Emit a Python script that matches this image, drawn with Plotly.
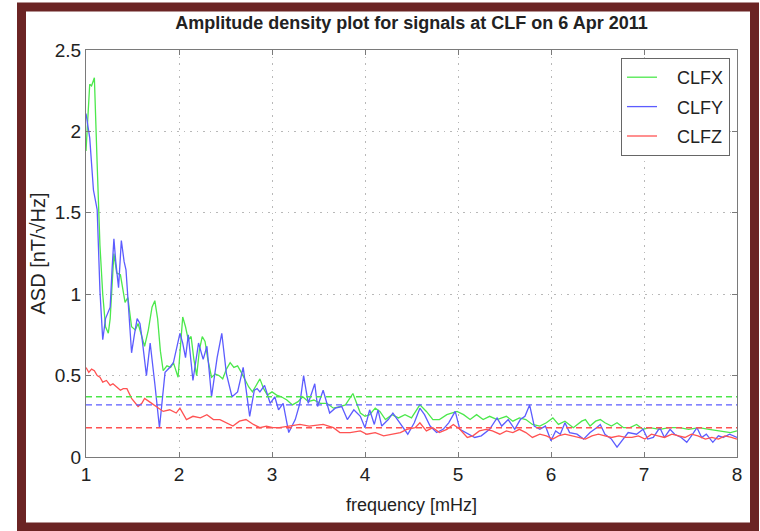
import plotly.graph_objects as go

# ---------------- data ----------------
freq_x = [1.00, 1.04, 1.06, 1.09, 1.12, 1.15, 1.18, 1.21, 1.24, 1.26, 1.30, 1.33, 1.37, 1.40, 1.42, 1.45,
          1.49, 1.53, 1.56, 1.60, 1.63, 1.67, 1.71, 1.74, 1.77, 1.80, 1.83, 1.87, 1.91, 1.94, 1.99, 2.04,
          2.07, 2.10, 2.13, 2.16, 2.19, 2.22, 2.25, 2.28, 2.31, 2.35, 2.39, 2.43, 2.47, 2.51, 2.55, 2.59,
          2.63, 2.67, 2.71, 2.75, 2.79, 2.83, 2.87, 2.91, 2.95, 3.00, 3.05, 3.10, 3.16, 3.22, 3.28, 3.33,
          3.39, 3.45, 3.52, 3.59, 3.66, 3.73, 3.79, 3.87, 3.91, 3.95, 4.00, 4.05, 4.11, 4.16, 4.22, 4.29,
          4.36, 4.43, 4.50, 4.59, 4.66, 4.73, 4.80, 4.88, 4.99, 5.06, 5.13, 5.20, 5.27, 5.34, 5.42, 5.52,
          5.59, 5.66, 5.73, 5.80, 5.88, 5.95, 6.02, 6.08, 6.15, 6.24, 6.33, 6.37, 6.42, 6.48, 6.53, 6.58,
          6.65, 6.71, 6.78, 6.85, 6.92, 6.99, 7.06, 7.17, 7.27, 7.38, 7.48, 7.59, 7.70, 7.81, 7.93, 8.00]
clfx = [1.88, 2.29, 2.28, 2.33, 1.80, 1.30, 1.00, 0.80, 0.76, 0.85, 1.25, 1.13, 1.12, 1.00, 0.95, 0.98,
        0.80, 0.78, 0.82, 0.74, 0.68, 0.78, 0.92, 0.96, 0.85, 0.65, 0.53, 0.56, 0.55, 0.58, 0.49, 0.86,
        0.80, 0.72, 0.74, 0.60, 0.50, 0.66, 0.74, 0.71, 0.60, 0.49, 0.51, 0.50, 0.48, 0.54, 0.58, 0.55,
        0.56, 0.52, 0.47, 0.43, 0.40, 0.44, 0.48, 0.42, 0.38, 0.40, 0.38, 0.37, 0.35, 0.32, 0.34, 0.37,
        0.34, 0.35, 0.33, 0.33, 0.30, 0.31, 0.32, 0.39, 0.33, 0.27, 0.25, 0.26, 0.30, 0.28, 0.23, 0.26,
        0.24, 0.26, 0.24, 0.32, 0.28, 0.23, 0.23, 0.26, 0.28, 0.26, 0.23, 0.26, 0.23, 0.25, 0.23, 0.25,
        0.22, 0.24, 0.23, 0.20, 0.19, 0.21, 0.24, 0.20, 0.22, 0.18, 0.22, 0.23, 0.19, 0.22, 0.23, 0.21,
        0.19, 0.21, 0.18, 0.18, 0.20, 0.17, 0.18, 0.17, 0.18, 0.18, 0.17, 0.18, 0.17, 0.16, 0.15, 0.16]

freq_y = [1.00, 1.04, 1.08, 1.12, 1.15, 1.18, 1.21, 1.24, 1.26, 1.28, 1.30, 1.32, 1.35, 1.38, 1.41, 1.43,
          1.47, 1.49, 1.52, 1.55, 1.58, 1.60, 1.65, 1.69, 1.74, 1.79, 1.82, 1.85, 1.90, 1.94, 2.01, 2.04,
          2.07, 2.10, 2.15, 2.18, 2.21, 2.26, 2.30, 2.35, 2.41, 2.46, 2.51, 2.57, 2.63, 2.69, 2.76, 2.81,
          2.84, 2.87, 2.92, 2.98, 3.03, 3.07, 3.12, 3.18, 3.25, 3.30, 3.34, 3.39, 3.46, 3.49, 3.55, 3.62,
          3.68, 3.75, 3.81, 3.88, 3.95, 4.00, 4.05, 4.10, 4.14, 4.18, 4.25, 4.30, 4.37, 4.46, 4.53, 4.59,
          4.64, 4.70, 4.77, 4.84, 4.90, 4.97, 5.02, 5.11, 5.18, 5.25, 5.34, 5.42, 5.47, 5.54, 5.61, 5.67,
          5.72, 5.77, 5.82, 5.88, 5.94, 6.00, 6.05, 6.10, 6.15, 6.20, 6.28, 6.35, 6.42, 6.49, 6.53, 6.58,
          6.65, 6.71, 6.76, 6.83, 6.92, 6.99, 7.04, 7.10, 7.17, 7.22, 7.28, 7.33, 7.40, 7.46, 7.51, 7.57,
          7.62, 7.67, 7.74, 7.80, 7.85, 7.92, 8.00]
clfy = [2.11, 1.96, 1.64, 1.52, 1.02, 0.72, 0.85, 0.90, 0.92, 1.15, 1.34, 1.20, 1.04, 1.33, 1.20, 1.15,
        0.78, 0.64, 0.75, 0.85, 0.82, 0.74, 0.50, 0.70, 0.45, 0.18, 0.35, 0.52, 0.55, 0.58, 0.76, 0.70,
        0.61, 0.75, 0.47, 0.58, 0.70, 0.60, 0.68, 0.37, 0.61, 0.76, 0.51, 0.37, 0.40, 0.55, 0.25, 0.41,
        0.42, 0.40, 0.44, 0.33, 0.37, 0.29, 0.33, 0.15, 0.23, 0.33, 0.50, 0.33, 0.45, 0.31, 0.41, 0.27,
        0.30, 0.31, 0.23, 0.29, 0.25, 0.18, 0.29, 0.20, 0.29, 0.19, 0.23, 0.27, 0.21, 0.14, 0.21, 0.30,
        0.26, 0.19, 0.15, 0.17, 0.21, 0.28, 0.17, 0.14, 0.12, 0.13, 0.17, 0.24, 0.19, 0.23, 0.17, 0.23,
        0.25, 0.32, 0.19, 0.17, 0.19, 0.10, 0.16, 0.14, 0.21, 0.15, 0.14, 0.11, 0.15, 0.18, 0.20, 0.14,
        0.11, 0.06, 0.10, 0.15, 0.14, 0.17, 0.11, 0.12, 0.18, 0.12, 0.17, 0.14, 0.12, 0.09, 0.13, 0.18,
        0.12, 0.14, 0.09, 0.13, 0.12, 0.14, 0.12]

freq_z = [1.00, 1.03, 1.06, 1.09, 1.12, 1.15, 1.18, 1.22, 1.26, 1.29, 1.33, 1.37, 1.40, 1.44, 1.49, 1.56,
          1.60, 1.63, 1.68, 1.75, 1.83, 1.90, 1.97, 2.01, 2.08, 2.15, 2.23, 2.30, 2.37, 2.44, 2.51, 2.58,
          2.65, 2.72, 2.80, 2.87, 2.94, 3.01, 3.08, 3.19, 3.30, 3.40, 3.55, 3.66, 3.73, 3.84, 3.95, 4.02,
          4.11, 4.20, 4.31, 4.38, 4.45, 4.54, 4.59, 4.66, 4.73, 4.80, 4.88, 4.95, 5.02, 5.10, 5.16, 5.23,
          5.30, 5.37, 5.45, 5.52, 5.59, 5.66, 5.73, 5.80, 5.88, 5.95, 6.02, 6.08, 6.15, 6.22, 6.29, 6.37,
          6.44, 6.51, 6.58, 6.65, 6.73, 6.80, 6.87, 6.94, 7.01, 7.08, 7.15, 7.22, 7.30, 7.37, 7.44, 7.51,
          7.58, 7.66, 7.73, 7.80, 7.87, 7.94, 8.00]
clfz = [0.55, 0.52, 0.54, 0.53, 0.50, 0.49, 0.46, 0.47, 0.44, 0.45, 0.43, 0.41, 0.42, 0.42, 0.36, 0.31,
        0.33, 0.36, 0.34, 0.31, 0.28, 0.29, 0.27, 0.30, 0.23, 0.25, 0.24, 0.26, 0.23, 0.23, 0.21, 0.19,
        0.22, 0.23, 0.20, 0.18, 0.19, 0.18, 0.18, 0.19, 0.20, 0.19, 0.20, 0.18, 0.15, 0.15, 0.16, 0.14,
        0.15, 0.13, 0.14, 0.15, 0.17, 0.18, 0.21, 0.16, 0.18, 0.15, 0.17, 0.20, 0.17, 0.12, 0.13, 0.16,
        0.17, 0.16, 0.14, 0.16, 0.15, 0.17, 0.15, 0.12, 0.14, 0.13, 0.11, 0.13, 0.14, 0.13, 0.12, 0.11,
        0.13, 0.14, 0.13, 0.12, 0.13, 0.12, 0.12, 0.13, 0.11, 0.14, 0.13, 0.12, 0.14, 0.13, 0.12, 0.14,
        0.13, 0.11, 0.12, 0.11, 0.13, 0.12, 0.11]

mean_levels = {"CLFX": 0.37, "CLFY": 0.32, "CLFZ": 0.18}
x_ticks = [1, 2, 3, 4, 5, 6, 7, 8]
y_ticks = [0, 0.5, 1, 1.5, 2, 2.5]

# ---------------- styling ----------------
FONT = "Liberation Sans, Arial, sans-serif"
colors = {"CLFX": "#4ce84c", "CLFY": "#5c5cff", "CLFZ": "#ff5252"}
series = [("CLFX", freq_x, clfx), ("CLFY", freq_y, clfy), ("CLFZ", freq_z, clfz)]
PAD = "\u00a0\u00a0\u00a0"

fig = go.Figure()
for name, fx, vals in series:
    fig.add_trace(go.Scatter(x=fx, y=vals, mode="lines", name=PAD + name, legendgroup=name,
                             line=dict(color=colors[name], width=1.3)))
for name, fx, vals in series:
    fig.add_trace(go.Scatter(x=[x_ticks[0], x_ticks[-1]], y=[mean_levels[name]] * 2, mode="lines",
                             showlegend=False, legendgroup=name, hoverinfo="skip",
                             line=dict(color=colors[name], width=1.4, dash="6px,4px")))

W, H = 760, 531
L, R, T, B = 86, 23, 50, 74
pw, ph = W - L - R, H - T - B

def px_x(p):
    return (p - L) / pw

def px_y(p):
    return (H - B - p) / ph

axis_common = dict(showline=True, linecolor="#7a7a7a", linewidth=1, mirror="ticks",
                   ticks="inside", ticklen=5, tickcolor="#7a7a7a",
                   showgrid=True, gridcolor="#b8b8b8", griddash="1.5px,5px", gridwidth=1.2,
                   zeroline=False, tickfont=dict(family=FONT, size=19, color="#222"))

fig.update_layout(
    width=W, height=H,
    margin=dict(l=L, r=R, t=T, b=B),
    paper_bgcolor="white", plot_bgcolor="white",
    title=dict(text="<b>Amplitude density plot for signals at CLF on 6 Apr 2011</b>",
               x=px_x((L + W - R) / 2), xref="paper", xanchor="center",
               y=1 - 23 / H, yanchor="middle",
               font=dict(family=FONT, size=18, color="#222")),
    xaxis=dict(range=[1, 8], tickvals=x_ticks,
               title=dict(text="frequency [mHz]", font=dict(family=FONT, size=18, color="#222"), standoff=14),
               **axis_common),
    yaxis=dict(range=[0, 2.5], tickvals=y_ticks,
               title=dict(text="ASD [nT/√Hz]", font=dict(family=FONT, size=20, color="#222"), standoff=3),
               **axis_common),
    legend=dict(x=px_x(621), y=px_y(58), xanchor="left", yanchor="top",
                bgcolor="white", bordercolor="#666", borderwidth=1,
                font=dict(family=FONT, size=18, color="#222"), tracegroupgap=3),
    showlegend=True,
    shapes=[dict(type="rect", xref="paper", yref="paper",
                 x0=px_x(21.5), x1=px_x(754.5), y0=px_y(527), y1=px_y(7),
                 line=dict(color="#6b2424", width=9), fillcolor="rgba(0,0,0,0)", layer="above")],
)

fig.write_html("out.html")
